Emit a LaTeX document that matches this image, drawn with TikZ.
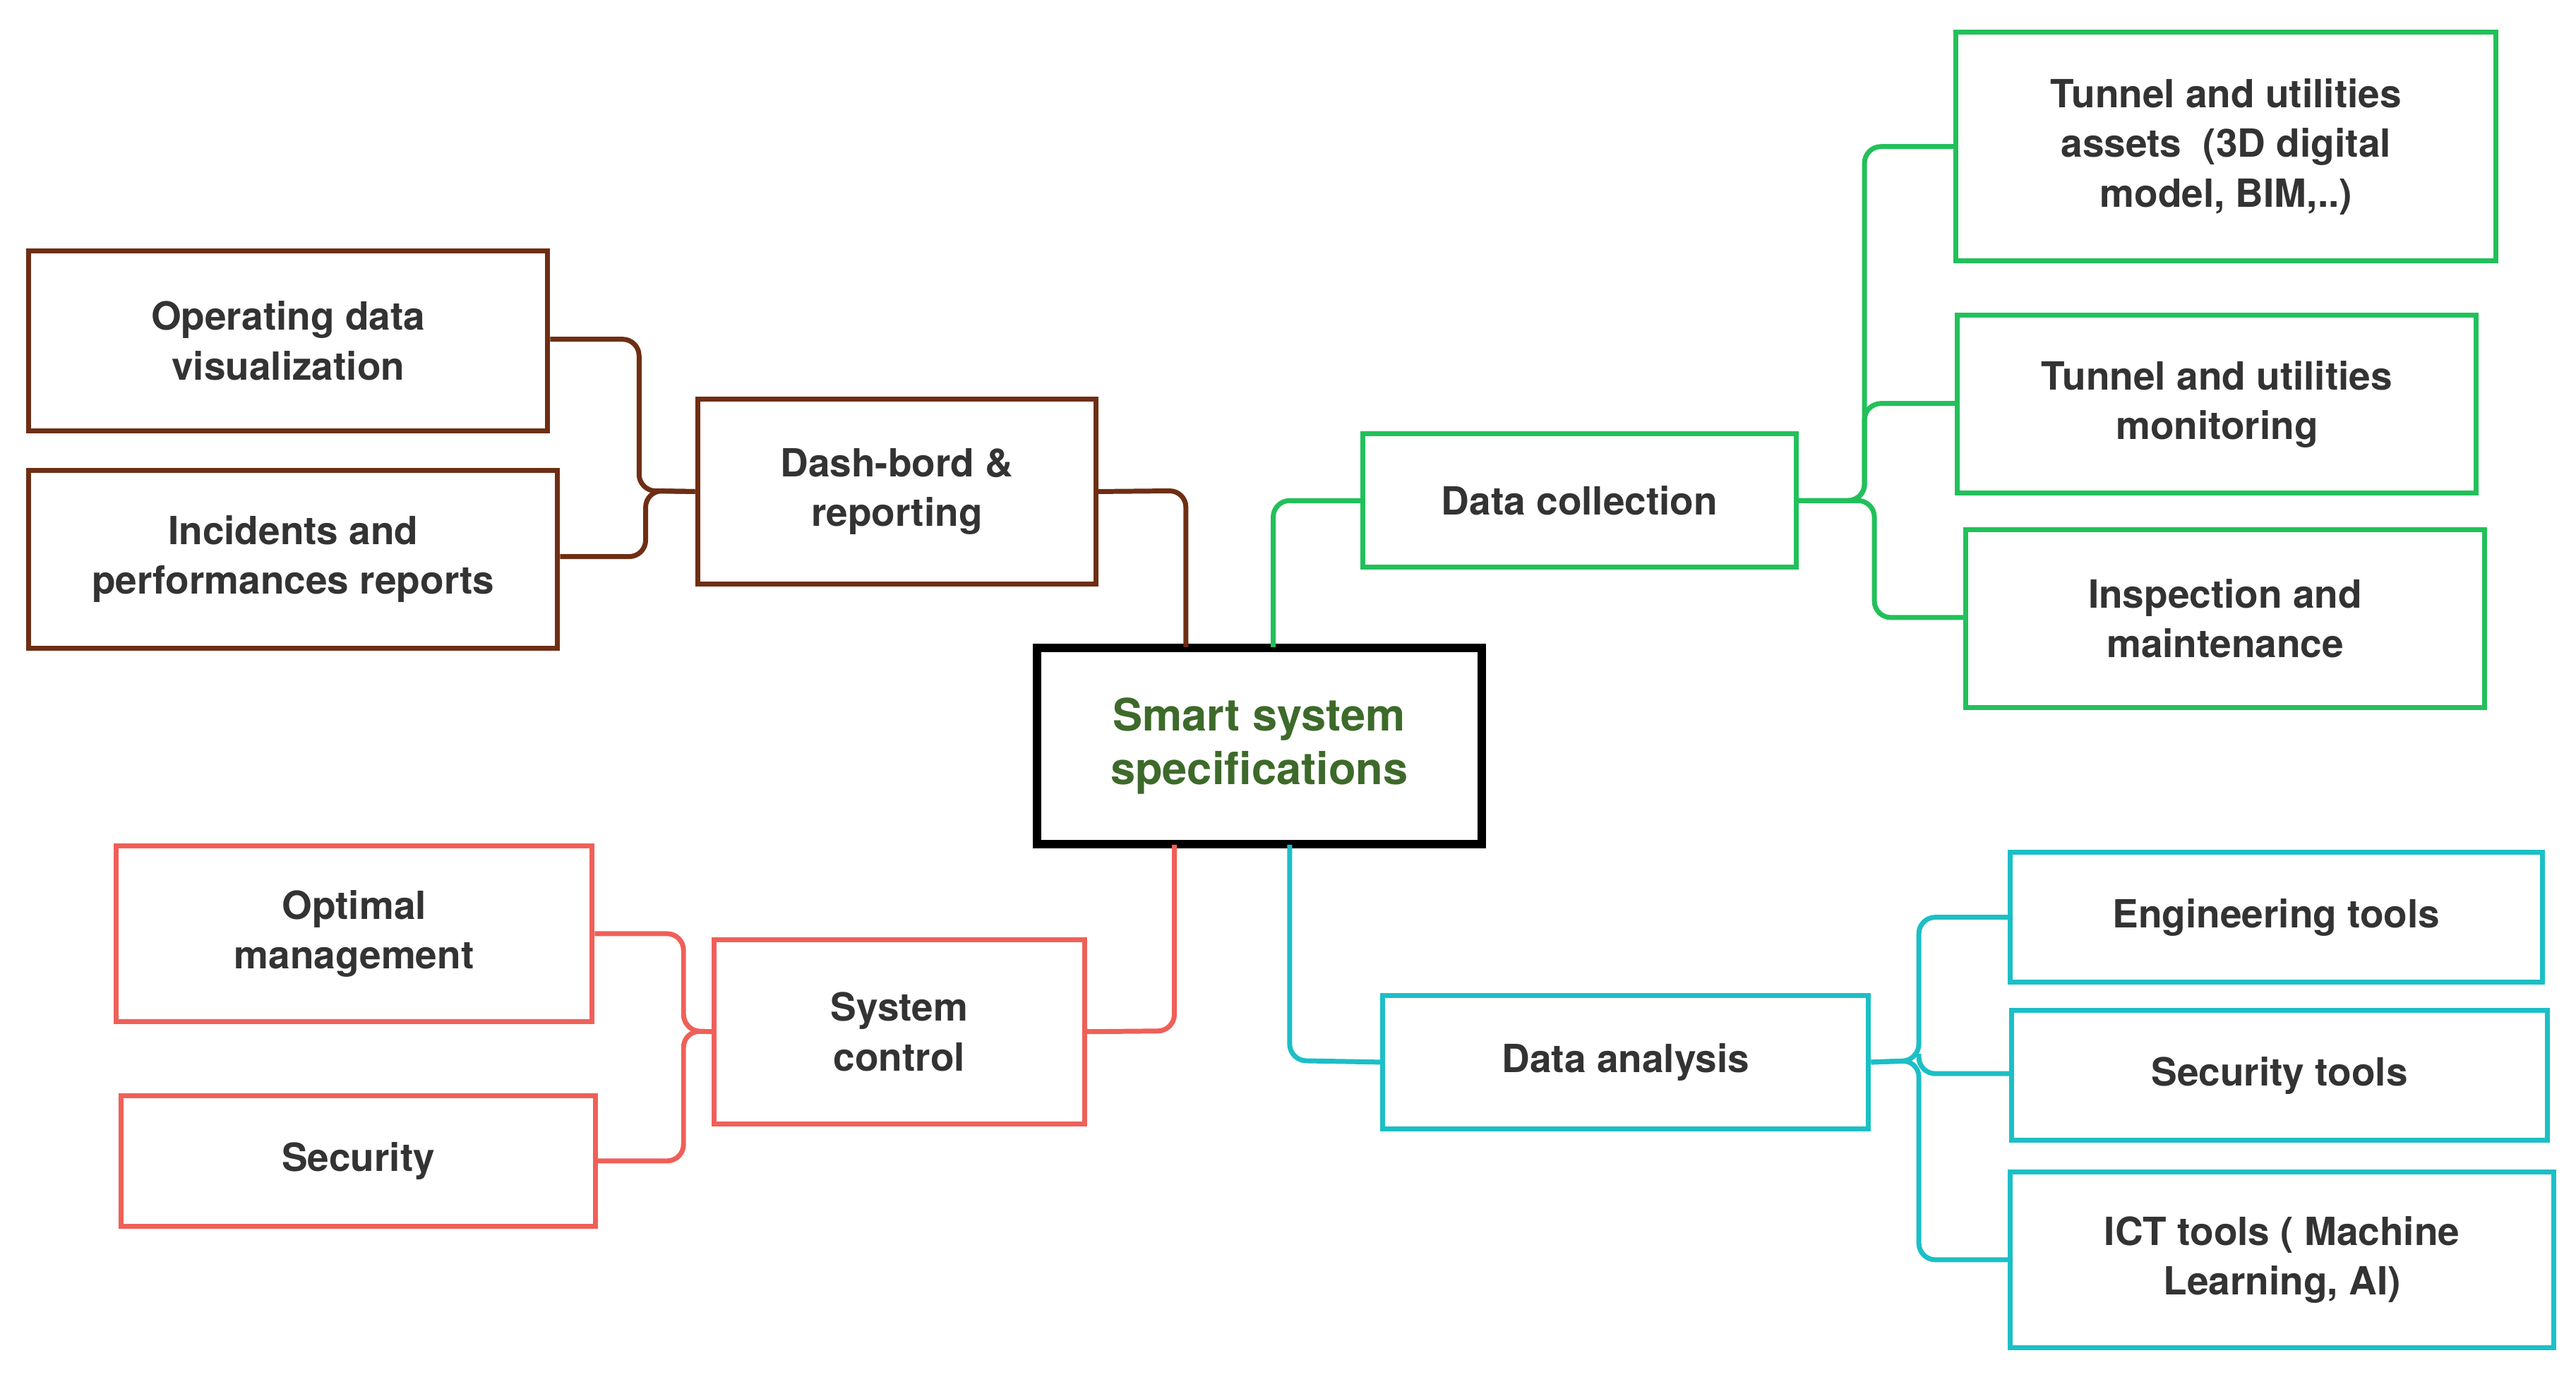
\documentclass[tikz,border=0pt]{standalone}
\usepackage{fontspec}
\setmainfont{TeX Gyre Heros}
\definecolor{cbrown}{HTML}{6E2E14}
\definecolor{cgreen}{HTML}{22C05A}
\definecolor{cred}{HTML}{EF6058}
\definecolor{cteal}{HTML}{1CBFC6}
\definecolor{ctext}{HTML}{333333}
\definecolor{cdark}{HTML}{3D6A2A}
\begin{document}
\begin{tikzpicture}[x=0.01cm,y=-0.01cm,
 box/.style={draw,line width=0.85pt,align=center,text=ctext,font=\fontsize{6.7pt}{8.6pt}\selectfont\bfseries,inner sep=0pt},
 ln/.style={line width=0.85pt,rounded corners=0.1cm}]
\useasboundingbox (0,0) rectangle (1564,836);
\newcommand{\bx}[7]{\node[box,draw=#2,minimum width={(#5-#3)*0.01cm-0.85pt},minimum height={(#6-#4)*0.01cm-0.85pt}] (#1) at ({(#3+#5)/2},{(#4+#6)/2}) {#7};}
\bx{c}{black}{629}{393}{900}{513}{}
\node[font=\fontsize{7.7pt}{9.3pt}\selectfont\bfseries,text=cdark,align=center] (ct) at (c) {Smart system\\specifications};
\draw[line width=1.2pt] (c.north west) rectangle (c.south east);
\bx{d}{cbrown}{422}{241}{667}{356}{Dash-bord \&\\reporting}
\bx{o}{cbrown}{16}{151}{334}{263}{Operating data\\visualization}
\bx{i}{cbrown}{16}{284}{340}{395}{Incidents and\\performances reports}
\bx{dc}{cgreen}{826}{262}{1092}{346}{Data collection}
\bx{ta}{cgreen}{1186}{18}{1517}{160}{Tunnel and utilities\\assets\ \ (3D digital\\model, BIM,..)}
\bx{tm}{cgreen}{1187}{190}{1505}{301}{Tunnel and utilities\\monitoring}
\bx{im}{cgreen}{1192}{320}{1510}{431}{Inspection and\\maintenance}
\bx{sc}{cred}{432}{569}{660}{684}{System\\control}
\bx{om}{cred}{69}{512}{361}{622}{Optimal\\management}
\bx{se}{cred}{72}{664}{363}{746}{Security}
\bx{da}{cteal}{838}{603}{1136}{687}{Data analysis}
\bx{et}{cteal}{1219}{516}{1545}{598}{Engineering tools}
\bx{st}{cteal}{1220}{612}{1548}{694}{Security tools}
\bx{ict}{cteal}{1219}{710}{1552}{820}{ICT tools ( Machine\\Learning, AI)}
% center links
\draw[ln,cbrown] (c.north -| 720,0) -- (720,298) -- (d.east);
\draw[ln,cgreen] (c.north -| 773,0) -- (773,304) -- (dc.west);
\draw[ln,cred] (c.south -| 713,0) -- (713,626) -- (sc.east);
\draw[ln,cteal] (c.south -| 783,0) -- (783,644) -- (da.west);
% brackets
\draw[ln,cbrown] (d.west) -- (388,298) -- (388,206) -- (o.east|-0,206);
\draw[ln,cbrown] (d.west) -- (392,298) -- (392,338) -- (i.east|-0,338);
\draw[ln,cgreen] (dc.east) -- (1132,304) -- (1132,89) -- (ta.west|-0,89);
\draw[ln,cgreen] (dc.east) -- (1132,304) -- (1132,245) -- (tm.west|-0,245);
\draw[ln,cgreen] (dc.east) -- (1138,304) -- (1138,375) -- (im.west|-0,375);
\draw[ln,cred] (sc.west) -- (415,626) -- (415,567) -- (om.east|-0,567);
\draw[ln,cred] (sc.west) -- (415,626) -- (415,705) -- (se.east|-0,705);
\draw[ln,cteal] (da.east) -- (1165,644) -- (1165,557) -- (et.west|-0,557);
\draw[ln,cteal] (1165,640) -- (1165,652) -- (st.west|-0,652);
\draw[ln,cteal] (da.east) -- (1165,644) -- (1165,765) -- (ict.west|-0,765);
\end{tikzpicture}
\end{document}
